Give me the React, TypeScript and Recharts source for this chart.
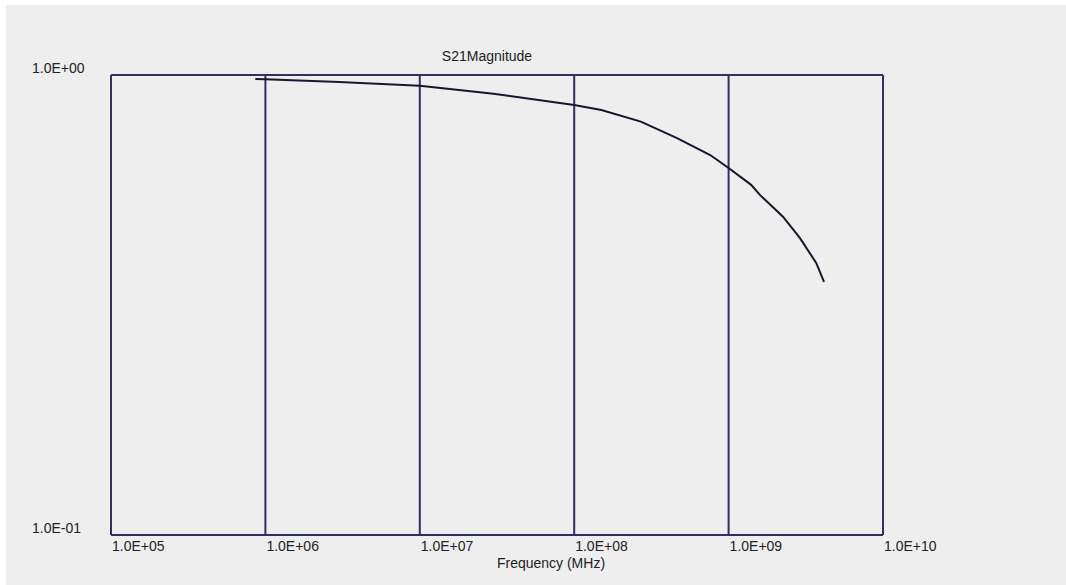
import { LineChart, Line, XAxis, YAxis, CartesianGrid, Customized } from 'recharts'

// frequency points and S21 magnitude
const freqs = [
  8.6e5, 1e6, 3e6, 1e7, 3e7, 1e8, 1.5e8, 2.7e8, 4.6e8, 7.6e8, 1e9, 1.4e9, 1.6e9, 2.25e9,
  2.6e9, 2.9e9, 3.7e9, 4.15e9,
]
const magnitudes = [
  0.98, 0.979, 0.965, 0.948, 0.91, 0.861, 0.839, 0.792, 0.73, 0.67, 0.628, 0.577, 0.548, 0.492,
  0.463, 0.442, 0.39, 0.355,
]

const xTicks = [1e5, 1e6, 1e7, 1e8, 1e9, 1e10]
const xTickLabels = ['1.0E+05', '1.0E+06', '1.0E+07', '1.0E+08', '1.0E+09', '1.0E+10']
const yTicks = [0.1, 1]
const yTickLabels = ['1.0E-01', '1.0E+00']

const data = freqs.map((f, i) => ({ freq: f, mag: magnitudes[i] }))

const FONT = '"Liberation Sans", Arial, sans-serif'
const GRID = '#2f2f60'

function XTick(props: any) {
  const { x, payload } = props
  const idx = xTicks.indexOf(payload.value)
  return (
    <text x={x + 1} y={541} fontFamily={FONT} fontSize={14} fill="#222" textAnchor="start" dominantBaseline="central">
      {xTickLabels[idx]}
    </text>
  )
}

function YTick(props: any) {
  const { y, payload } = props
  const idx = yTicks.indexOf(payload.value)
  return (
    <text x={26} y={y - 7} fontFamily={FONT} fontSize={14} fill="#222" textAnchor="start" dominantBaseline="central">
      {yTickLabels[idx]}
    </text>
  )
}

function Titles() {
  return (
    <g fontFamily={FONT} fontSize={14} fill="#222">
      <text x={481} y={51} textAnchor="middle" dominantBaseline="central">
        S21Magnitude
      </text>
      <text x={545} y={558} textAnchor="middle" dominantBaseline="central">
        Frequency (MHz)
      </text>
    </g>
  )
}

export default function App() {
  return (
    <div style={{ position: 'absolute', left: 6, top: 5, width: 1060, height: 580, background: '#eeeeee' }}>
      <LineChart width={1060} height={580} data={data} margin={{ top: 70, right: 183, bottom: 0, left: 0 }}>
        <CartesianGrid stroke={GRID} strokeWidth={2} />
        <XAxis
          dataKey="freq"
          type="number"
          scale="log"
          domain={[1e5, 1e10]}
          ticks={xTicks}
          allowDataOverflow
          axisLine={false}
          tickLine={false}
          height={50}
          tick={<XTick />}
          interval={0}
        />
        <YAxis
          type="number"
          scale="log"
          domain={[0.1, 1]}
          ticks={yTicks}
          allowDataOverflow
          axisLine={false}
          tickLine={false}
          width={105}
          tick={<YTick />}
          interval={0}
        />
        <Line
          type="linear"
          dataKey="mag"
          stroke="#17172c"
          strokeWidth={2}
          dot={false}
          isAnimationActive={false}
        />
        <Customized component={Titles} />
      </LineChart>
    </div>
  )
}
